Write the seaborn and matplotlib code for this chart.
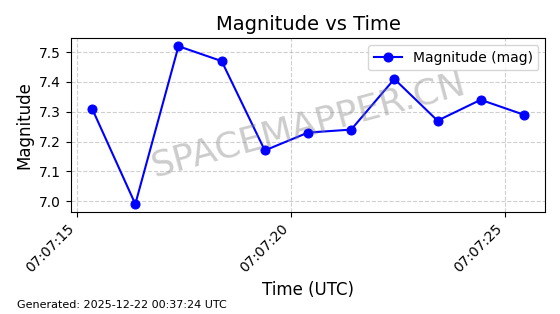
import matplotlib
matplotlib.use("Agg")
import matplotlib.pyplot as plt
import matplotlib.dates as mdates
import seaborn as sns
import pandas as pd

# Data
time_seconds = [15.35, 16.36, 17.37, 18.38, 19.39, 20.40, 21.41, 22.42, 23.43, 24.44, 25.45]
magnitude = [7.31, 6.99, 7.52, 7.47, 7.17, 7.23, 7.24, 7.41, 7.27, 7.34, 7.29]
base_time = "2025-12-22 07:07:00"
title = "Magnitude vs Time"
series_label = "Magnitude (mag)"
watermark = "SPACEMAPPER.CN"
footer = "Generated: 2025-12-22 00:37:24 UTC"

times = pd.Timestamp(base_time) + pd.to_timedelta(time_seconds, unit="s")
df = pd.DataFrame({"time": times, "mag": magnitude})

fig = plt.figure(figsize=(5.6, 3.14), dpi=100)
ax = fig.add_axes([0.126, 0.325, 0.848, 0.553])

sns.lineplot(data=df, x="time", y="mag", ax=ax, color="blue", marker="o",
             markersize=6.5, markeredgecolor="blue", linewidth=1.5, label=series_label)

ax.set_title(title, fontsize=14)
ax.set_xlabel("Time (UTC)", fontsize=12)
ax.set_ylabel("Magnitude", fontsize=12)
ax.grid(True, linestyle="--", alpha=0.6)
ax.xaxis.set_major_locator(mdates.SecondLocator(bysecond=range(0, 60, 5)))
ax.xaxis.set_major_formatter(mdates.DateFormatter("%H:%M:%S"))
ax.margins(x=0.05, y=0.05)
plt.setp(ax.get_xticklabels(), rotation=45, ha="right", fontsize=10)
plt.setp(ax.get_yticklabels(), fontsize=10)
ax.legend(loc="upper right", fontsize=10)

ax.text(0.5, 0.5, watermark, transform=ax.transAxes, fontsize=26, color="gray",
        alpha=0.4, ha="center", va="center", rotation=15)
fig.text(0.03, 0.02, footer, fontsize=8)

fig.savefig("out.png", dpi=100)
